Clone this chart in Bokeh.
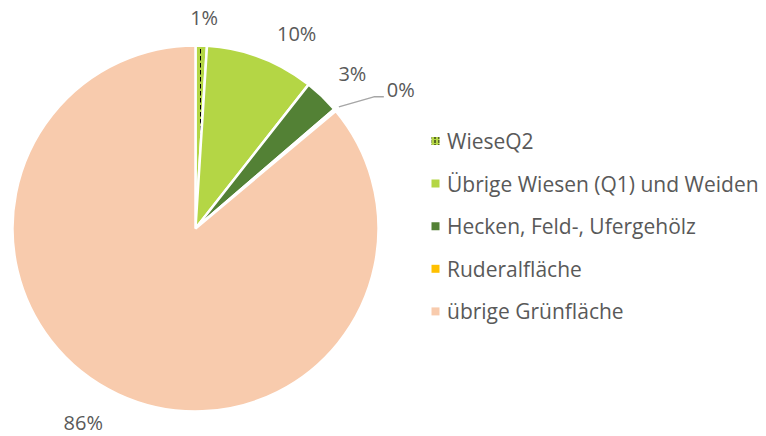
import numpy as np
from bokeh.plotting import figure
from bokeh.models import Range1d, ColumnDataSource
from bokeh.embed import file_html
from bokeh.resources import INLINE
from bokeh.core.properties import value

# ---- data ----
categories = ["WieseQ2", "Übrige Wiesen (Q1) und Weiden", "Hecken, Feld-, Ufergehölz",
              "Ruderalfläche", "übrige Grünfläche"]
shares = [1.0, 9.6, 3.1, 0.2, 86.1]
pct_labels = ["1%", "10%", "3%", "0%", "86%"]
colors = ["#B4D645", "#B4D645", "#538135", "#FFC000", "#F8CBAD"]
hatches = ["vertical_dash", " ", " ", " ", " "]

# ---- layout ----
W, H = 766, 436
FONT = "Open Sans"
FS = "20px"
FS_LEG = "21px"
TXT = "#595959"
p = figure(width=W, height=H, x_range=Range1d(0, W), y_range=Range1d(0, H),
           output_backend="svg", toolbar_location=None, min_border=0)
p.axis.visible = False
p.grid.visible = False
p.outline_line_color = None

cx, cy, R = 195, 208, 183
vals = np.array(shares, dtype=float)
frac = vals / vals.sum()
ends = np.cumsum(frac)
starts = ends - frac
start_angle = np.pi / 2 - ends * 2 * np.pi
end_angle = np.pi / 2 - starts * 2 * np.pi

src = ColumnDataSource(dict(start=start_angle, end=end_angle, color=colors, hatch=hatches))
p.wedge(x=cx, y=cy, radius=R, start_angle="start", end_angle="end", source=src,
        fill_color="color", line_color="white", line_width=2.5,
        hatch_pattern="hatch", hatch_color="black", hatch_scale=7, hatch_weight=1)

# ---- percentage labels ----
mid = (starts + ends) / 2
theta = np.pi / 2 - mid * 2 * np.pi
r_lab = R + 28
label_offsets = [(2, 0), (26, -2), (11, 3), (0, 0), (-23, -3)]
lx, ly, la = [], [], []
for i, (dx, dy) in enumerate(label_offsets):
    if i == 3:
        continue
    lx.append(cx + r_lab * np.cos(theta[i]) + dx)
    ly.append(cy + r_lab * np.sin(theta[i]) + dy)
    la.append(pct_labels[i])
p.text(x=lx, y=ly, text=la, text_align="center", text_baseline="middle",
       text_font=value(FONT), text_font_size=FS, text_color=TXT)

# leader line for tiny slice
t3 = theta[3]
x0, y0 = cx + (R + 5) * np.cos(t3), cy + (R + 5) * np.sin(t3)
x1, y1 = x0 + 35, y0 + 10
x2 = x1 + 10
p.line(x=[x0, x1, x2], y=[y0, y1, y1], line_color="#A6A6A6", line_width=1.5)
p.text(x=[x2 + 3], y=[y1 + 7], text=[pct_labels[3]], text_align="left", text_baseline="middle",
       text_font=value(FONT), text_font_size=FS, text_color=TXT)

# ---- legend ----
leg_x, leg_y0, leg_dy = 435, 295.5, 42.6
n = len(categories)
ly_leg = [leg_y0 - k * leg_dy for k in range(n)]
lsrc = ColumnDataSource(dict(x=[leg_x] * n, y=ly_leg, color=colors,
                             hatch=hatches, label=categories, tx=[leg_x + 11.5] * n))
p.rect(x="x", y="y", width=8, height=8, source=lsrc, fill_color="color", line_color=None,
       hatch_pattern="hatch", hatch_color="black", hatch_scale=4, hatch_weight=1)
p.text(x="tx", y="y", text="label", source=lsrc, text_align="left", text_baseline="middle",
       text_font=value(FONT), text_font_size=FS_LEG, text_color=TXT)

open("out.html", "w").write(file_html(p, INLINE))
